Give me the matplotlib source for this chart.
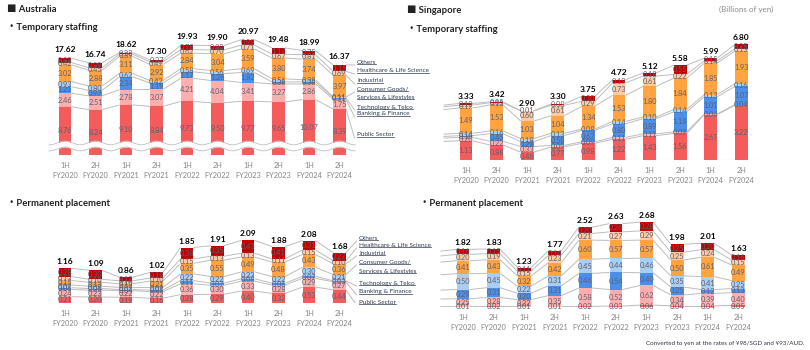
import numpy as np
import matplotlib
matplotlib.use("Agg")
import matplotlib.pyplot as plt
from matplotlib.lines import Line2D

plt.rcParams['font.family'] = ['Lato', 'Noto Sans CJK JP', 'DejaVu Sans']

# ---------------- data ----------------
periods = ["1H\nFY2020", "2H\nFY2020", "1H\nFY2021", "2H\nFY2021", "1H\nFY2022",
           "2H\nFY2022", "1H\nFY2023", "2H\nFY2023", "1H\nFY2024", "2H\nFY2024"]
segments = ["Public Sector", "Banking & Finance", "Technology & Telco",
            "Consumer Goods/ Services & Lifestyles", "Industrial",
            "Healthcare & Life Science", "Others"]
seg_colors = ["#F45B5B", "#FFAEAE", "#4C8FE8", "#AACDF2", "#FFA441", "#FFCBA6", "#C00000"]

# Australia - temporary staffing
au_temp_total = [17.62, 16.74, 18.62, 17.30, 19.93, 19.90, 20.97, 19.48, 18.99, 16.37]
au_temp_public = [8.76, 8.24, 9.10, 8.84, 9.73, 9.50, 9.77, 9.65, 10.07, 8.39]
au_temp_banking = [2.46, 2.51, 2.78, 3.07, 4.21, 4.04, 3.41, 3.27, 2.86, 1.75]
au_temp_tech = [1.21, 0.97, 2.34, 1.19, 1.17, 1.26, 1.82, 0.36, 0.38, 0.31]
au_temp_consumer = [0.93, 0.80, 0.62, 0.42, 0.58, 0.56, 0.69, 0.56, 0.38, 0.11]
au_temp_industrial = [3.02, 2.88, 3.11, 2.92, 2.84, 3.04, 3.59, 3.80, 3.74, 3.97]
au_temp_health = [0.42, 0.45, 0.39, 0.49, 0.62, 0.70, 0.71, 0.67, 0.81, 0.69]
au_temp_others = [0.82, 0.89, 0.28, 0.37, 0.78, 0.80, 0.98, 1.17, 0.75, 1.15]

# Australia - permanent placement
au_perm_total = [1.16, 1.09, 0.86, 1.02, 1.85, 1.91, 2.09, 1.88, 2.08, 1.68]
au_perm_public = [0.21, 0.20, 0.19, 0.16, 0.28, 0.29, 0.40, 0.32, 0.53, 0.44]
au_perm_banking = [0.24, 0.23, 0.22, 0.22, 0.36, 0.30, 0.33, 0.28, 0.29, 0.27]
au_perm_tech = [0.06, 0.05, 0.04, 0.05, 0.11, 0.07, 0.08, 0.06, 0.07, 0.03]
au_perm_consumer = [0.09, 0.08, 0.07, 0.09, 0.22, 0.22, 0.23, 0.22, 0.30, 0.21]
au_perm_industrial = [0.15, 0.13, 0.12, 0.21, 0.35, 0.55, 0.49, 0.48, 0.43, 0.36]
au_perm_health = [0.13, 0.10, 0.10, 0.10, 0.15, 0.13, 0.13, 0.11, 0.15, 0.10]
au_perm_others = [0.28, 0.30, 0.12, 0.19, 0.38, 0.35, 0.43, 0.41, 0.31, 0.27]

# Singapore - temporary staffing
sg_temp_total = [3.33, 3.42, 2.90, 3.30, 3.75, 4.72, 5.12, 5.58, 5.99, 6.80]
sg_temp_public = [1.13, 0.88, 0.46, 0.77, 0.98, 1.22, 1.43, 1.56, 2.67, 3.22]
sg_temp_banking = [0.20, 0.22, 0.33, 0.09, 0.09, 0.11, 0.11, 0.09, 0.04, 0.04]
sg_temp_tech = [0.10, 0.45, 0.29, 0.58, 0.67, 0.80, 0.89, 1.18, 1.01, 1.07]
sg_temp_consumer = [0.14, 0.16, 0.18, 0.13, 0.08, 0.14, 0.10, 0.14, 0.13, 0.16]
sg_temp_industrial = [1.49, 1.53, 1.03, 1.04, 1.34, 1.53, 1.80, 1.84, 1.85, 1.93]
sg_temp_health = [0.17, 0.13, 0.60, 0.61, 0.29, 0.73, 0.61, 0.22, 0.14, 0.13]
sg_temp_others = [0.10, 0.05, 0.01, 0.08, 0.30, 0.19, 0.18, 0.55, 0.15, 0.25]

# Singapore - permanent placement
sg_perm_total = [1.82, 1.83, 1.23, 1.77, 2.52, 2.63, 2.68, 1.98, 2.01, 1.63]
sg_perm_public = [0.01, 0.02, 0.01, 0.01, 0.02, 0.03, 0.06, 0.04, 0.04, 0.05]
sg_perm_banking = [0.25, 0.28, 0.22, 0.35, 0.58, 0.52, 0.62, 0.34, 0.39, 0.40]
sg_perm_tech = [0.29, 0.31, 0.20, 0.31, 0.46, 0.54, 0.40, 0.25, 0.12, 0.13]
sg_perm_consumer = [0.50, 0.45, 0.22, 0.31, 0.45, 0.44, 0.46, 0.35, 0.41, 0.25]
sg_perm_industrial = [0.41, 0.43, 0.32, 0.42, 0.60, 0.57, 0.57, 0.50, 0.61, 0.49]
sg_perm_health = [0.20, 0.19, 0.15, 0.23, 0.21, 0.27, 0.29, 0.25, 0.24, 0.15]
sg_perm_others = [0.16, 0.15, 0.11, 0.14, 0.20, 0.26, 0.28, 0.25, 0.20, 0.16]

legend_lines = ["Others", "Healthcare & Life Science", "Industrial", "Consumer Goods/",
                "Services & Lifestyles", "Technology & Telco", "Banking & Finance", "Public Sector"]

# ---------------- layout ----------------
FW, FH = 810, 350
fig = plt.figure(figsize=(FW / 100, FH / 100), dpi=100)
fig.patch.set_facecolor("white")

BAR_W = 0.42
LBL_COL = "#5E6070"
LINE_COL = "#BDBDBD"
LEG_COL = "#2E3A50"


def make_ax(x0, dx, B, T, ppu, xmin, xmax):
    L = x0 + xmin * dx
    R = x0 + xmax * dx
    ax = fig.add_axes([L / FW, 1 - B / FH, (R - L) / FW, (B - T) / FH])
    ax.set_xlim(xmin, xmax)
    ax.set_ylim(0, (B - T) / ppu)
    for s in ax.spines.values():
        s.set_visible(False)
    ax.set_yticks([])
    ax.patch.set_alpha(0)
    ax._px = (x0, dx, B, ppu)
    return ax


def draw_chart(ax, stacks, totals, legend=None, left_stub=False, tot_pad=0.0):
    n = len(totals)
    x = np.arange(n)
    bottoms = np.zeros(n)
    tops = []
    for vals, col in zip(stacks, seg_colors):
        vals = np.asarray(vals)
        ax.bar(x, vals, width=BAR_W, bottom=bottoms, color=col, edgecolor="none", zorder=3)
        for xi, b, v in zip(x, bottoms, vals):
            ax.text(xi, b + v / 2, f"{v:.2f}", ha="center", va="center", fontsize=5.3,
                    color=LBL_COL, zorder=6, clip_on=False)
        bottoms = bottoms + vals
        tops.append(bottoms.copy())
    # connector lines
    for t in tops:
        for i in range(n - 1):
            ax.plot([x[i] + BAR_W / 2, x[i + 1] - BAR_W / 2], [t[i], t[i + 1]],
                    color=LINE_COL, lw=0.7, zorder=2, solid_capstyle="butt")
        if left_stub:
            ax.plot([-0.72, -BAR_W / 2], [t[0] * 0.97, t[0]], color=LINE_COL, lw=0.7, zorder=2)
    # axis line
    ax.hlines(0, -0.52, n - 0.48, color="#BFBFBF", lw=0.8, zorder=4)
    # totals
    for xi, tot, top in zip(x, totals, bottoms):
        ax.text(xi, top + tot_pad, f"{tot:.2f}", ha="center", va="bottom", fontsize=6,
                fontweight="bold", color="black", zorder=7, clip_on=False)
    ax.set_xticks(x)
    ax.set_xticklabels(periods, fontsize=5.3, color="#858585", linespacing=1.45)
    ax.tick_params(axis="x", length=0, pad=5)
    # legend with lines
    if legend is not None:
        lx_px, ys_px = legend
        x0, dx, B, ppu = ax._px
        lx = (lx_px - x0) / dx
        texts = []
        for lab, ypx in zip(legend_lines, ys_px):
            yd = (B - ypx) / ppu
            t = ax.text(lx, yd, lab, ha="left", va="center", fontsize=4.6, color=LEG_COL,
                        zorder=7, clip_on=False)
            texts.append(t)
        seg_to_leg = [7, 6, 5, 3, 2, 1, 0]
        for si, li in enumerate(seg_to_leg):
            yd = (B - (ys_px[li] + 3)) / ppu
            ax.plot([n - 1 + BAR_W / 2, lx - 0.08], [tops[si][-1], yd], color=LINE_COL,
                    lw=0.7, zorder=2)
        return texts
    return []


def stack(*a):
    return list(a)


# Australia temporary
ax1 = make_ax(65, 30.5, 155, 28, 5.5, -1.0, 11.9)
t1 = draw_chart(ax1, stack(au_temp_public, au_temp_banking, au_temp_tech, au_temp_consumer,
                           au_temp_industrial, au_temp_health, au_temp_others),
                au_temp_total, legend=(357, [62, 71, 81, 89, 97, 107, 114, 135]), tot_pad=0.9)
# wavy axis break (decoration)
xs = np.linspace(-0.52, 9.52, 600)
wave = 0.35 * np.sin(2 * np.pi * (xs + 0.25))
lo = 1.1 + wave
hi = 2.2 + wave
ax1.fill_between(xs, lo, hi, color="white", zorder=5, lw=0)
ax1.plot(xs, lo, color="#BFBFBF", lw=0.6, zorder=5)
ax1.plot(xs, hi, color="#BFBFBF", lw=0.6, zorder=5)

# Australia permanent
ax2 = make_ax(65, 30.5, 303, 212, 30.0, -1.0, 11.9)
t2 = draw_chart(ax2, stack(au_perm_public, au_perm_banking, au_perm_tech, au_perm_consumer,
                           au_perm_industrial, au_perm_health, au_perm_others),
                au_perm_total, legend=(359, [238, 245, 253, 262, 271, 283, 292, 302]), tot_pad=0.1)

# Singapore temporary
ax3 = make_ax(466, 30.6, 160, 30, 17.0, -1.0, 10.0)
draw_chart(ax3, stack(sg_temp_public, sg_temp_banking, sg_temp_tech, sg_temp_consumer,
                      sg_temp_industrial, sg_temp_health, sg_temp_others),
           sg_temp_total, left_stub=True, tot_pad=0.2)

# Singapore permanent
ax4 = make_ax(463, 30.6, 307, 212, 31.7, -1.0, 10.0)
draw_chart(ax4, stack(sg_perm_public, sg_perm_banking, sg_perm_tech, sg_perm_consumer,
                      sg_perm_industrial, sg_perm_health, sg_perm_others),
           sg_perm_total, left_stub=True, tot_pad=0.1)

# ---------------- titles ----------------
def ftext(xpx, ypx, s, **kw):
    return fig.text(xpx / FW, 1 - ypx / FH, s, **kw)

ftext(7, 10, "■ Australia", fontsize=6.8, fontweight="bold", va="center", ha="left", color="#222222")
ftext(407, 10, "■ Singapore", fontsize=6.8, fontweight="bold", va="center", ha="left", color="#222222")
ftext(7, 28, "・Temporary staffing", fontsize=6.8, fontweight="bold", va="center", ha="left", color="#222222")
ftext(407, 29, "・Temporary staffing", fontsize=6.8, fontweight="bold", va="center", ha="left", color="#222222")
ftext(7, 203, "・Permanent placement", fontsize=6.8, fontweight="bold", va="center", ha="left", color="#222222")
ftext(420, 203, "・Permanent placement", fontsize=6.8, fontweight="bold", va="center", ha="left", color="#222222")
ftext(773, 9, "(Billions of yen)", fontsize=5.8, va="center", ha="right", color="#8C8C8C")
ftext(804, 343, "Converted to yen at the rates of ¥98/SGD and ¥93/AUD.", fontsize=4.5,
      va="center", ha="right", color="#333344")

# underline legend labels
fig.canvas.draw()
renderer = fig.canvas.get_renderer()
inv = fig.transFigure.inverted()
for t in t1 + t2:
    bb = t.get_window_extent(renderer).transformed(inv)
    fig.add_artist(Line2D([bb.x0, bb.x1], [bb.y0 + 0.001, bb.y0 + 0.001],
                          transform=fig.transFigure, color=LEG_COL, lw=0.5))

fig.savefig("out.png", dpi=100, facecolor="white")
